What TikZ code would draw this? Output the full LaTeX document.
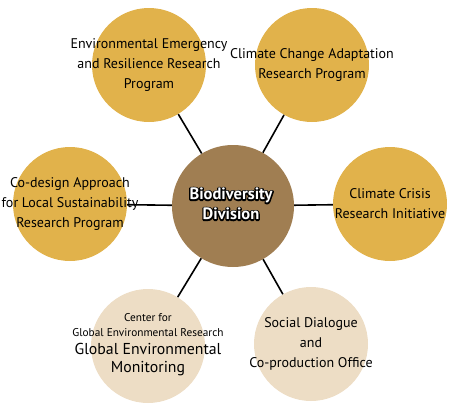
\documentclass[tikz,border=0pt]{standalone}
\usepackage{fontspec}
\setmainfont{PT Sans}
\definecolor{gold}{HTML}{E1B24B}
\definecolor{bark}{HTML}{A07E52}
\definecolor{sand}{HTML}{EDDDC5}
% thick black strokes for the rim under the white title
\newcommand{\rimtext}[1]{\special{pdf:code 2 Tr 2.6 w 1 j}#1\special{pdf:code 0 Tr}}

\begin{document}
\begin{tikzpicture}[x=1pt,y=-1pt,
	unit/.style={circle,fill=gold,inner sep=0pt,minimum size=114pt},
	office/.style={unit,fill=sand},
	core/.style={circle,fill=bark,inner sep=0pt,minimum size=122pt},
	txt/.style={align=center,inner sep=0pt,font=\fontsize{14}{20}\selectfont},
	title/.style={align=center,inner sep=0pt,font=\fontsize{16.5}{20}\selectfont\bfseries},
	link/.style={line width=1.6pt}]
	\useasboundingbox (0,0) rectangle (450,410);
	\node[core] (div) at (233,206) {};
	\node[title,text=black] (divrim) at (231,204) {\rimtext{Biodiversity}\\\rimtext{Division}};
	\node[title,text=white] (divtxt) at (divrim.center) {Biodiversity\\Division};
	\node[unit,label={[txt]center:Environmental Emergency\\and Resilience Research\\Program}] (p_1) at (149,65) {};
	\node[unit,label={[txt]center:Climate Change Adaptation\\Research Program}] (p_2) at (312,65) {};
	\node[unit,label={[txt]center:Climate Crisis\\Research Initiative}] (p_3) at (390,204) {};
	\node[office,label={[txt]center:Social Dialogue\\and\\Co-production Office}] (p_4) at (311,344) {};
	\node[office,
		label={[txt,font=\fontsize{11.3}{15}\selectfont,yshift=21pt]center:Center for\\Global Environmental Research},
		label={[txt,font=\fontsize{15.8}{18}\selectfont,yshift=-14pt]center:Global Environmental\\Monitoring}] (p_5) at (148,346) {};
	\node[unit,label={[txt]center:Co-design Approach\\for Local Sustainability\\Research Program}] (p_6) at (70,204) {};
	\path[link]
		(div) edge (p_1)
		      edge (p_2)
		      edge (p_3)
		      edge (p_4)
		      edge (p_5)
		      edge (p_6);
\end{tikzpicture}
\end{document}
